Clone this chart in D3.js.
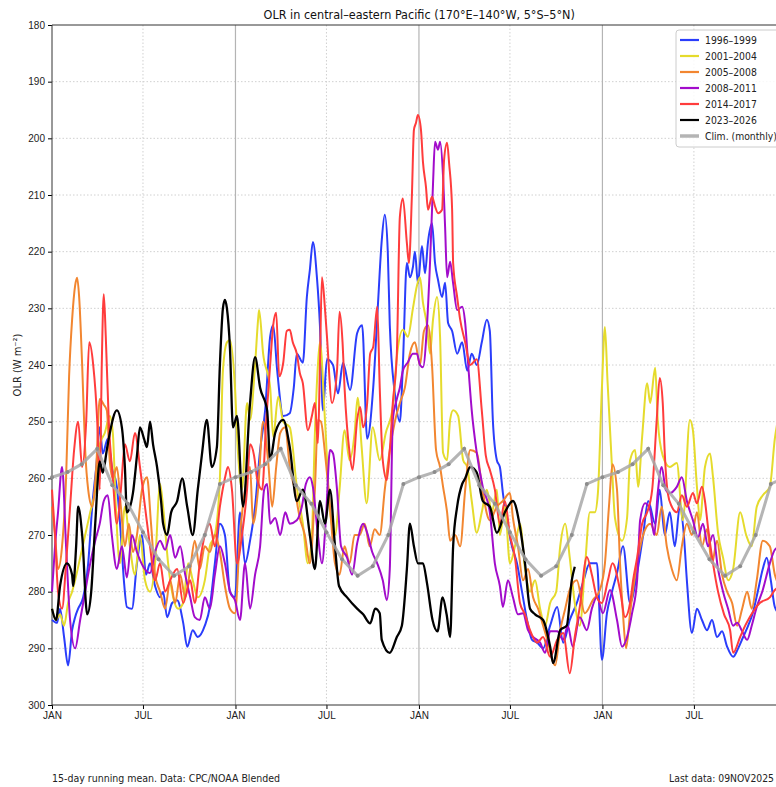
<!DOCTYPE html>
<html>
<head>
<meta charset="utf-8">
<script src="https://cdn.jsdelivr.net/npm/d3@7/dist/d3.min.js"></script>
<style>
  body { margin: 0; background: #fff; }
  svg { display: block; font-family: "DejaVu Sans Condensed", "Liberation Sans Narrow", "DejaVu Sans", sans-serif; }
  .tick text { font-size: 10px; fill: #222; }
  .grid line { stroke: #d0d0d0; stroke-dasharray: 1.5, 2; }
</style>
</head>
<body>
<div id="container"></div>
<script>
// days since 1 Jan of the first year of each 4-year window, OLR in W m-2
const olr1996 = [[0,285],[10,285.5],[16,283],[24,288],[32,293],[40,286.8],[46,284.5],[52,283],[62,281],[72,275],[80,265],[88,258],[95,251],[101,255.6],[111,253],[119,258],[129,261.5],[137,270],[143,278],[149,282.7],[159,283],[169,275],[179,270],[187,277],[195,275],[205,279],[215,281],[221,280],[229,284.5],[239,282],[249,281.5],[261,285.5],[269,289.7],[280,286.8],[290,288],[304,286],[314,282.7],[324,275],[334,268],[344,270],[354,280],[364,281],[374,266],[384,275],[394,271],[404,265],[414,255],[424,248],[434,235],[440,233],[448,241],[460,249],[473,248.5],[481,244],[487,238],[499,239.6],[507,228],[513,223.2],[519,218.3],[527,224.5],[533,233],[539,248],[547,239],[559,240],[569,245],[579,239.6],[593,244.4],[607,234.4],[617,233],[627,253],[639,244],[648,230],[656,218],[662,213.5],[668,220],[672,233],[682,245],[692,250],[698,240],[706,222],[712,224.5],[718,222.7],[722,220],[728,225.6],[736,219],[742,223.8],[748,218.3],[756,215],[762,222],[768,225],[776,228],[782,225.5],[788,232.6],[796,234],[806,238],[816,236],[826,241],[835,238],[845,240],[855,236],[865,232],[871,234],[877,249.7],[885,256.8],[891,258],[897,262.6],[905,267.4],[915,272],[925,275],[935,280],[945,285],[955,288.5],[965,289],[977,290],[991,286],[1005,282.7],[1017,289],[1030,285],[1044,282],[1056,278.5],[1070,275],[1084,275],[1094,292],[1104,283.8],[1114,280],[1124,276.7],[1136,272],[1150,282],[1164,276.7],[1176,270],[1186,264],[1200,268],[1209,262],[1219,270],[1229,266],[1239,272],[1249,265],[1257,270],[1263,278],[1273,287.3],[1283,283],[1293,285],[1303,286.8],[1313,285],[1323,288],[1333,287],[1343,289.7],[1355,291.5],[1365,290],[1375,288],[1385,286],[1394,283.8],[1404,280],[1414,276],[1422,274],[1430,278],[1438,282.7],[1448,284]];

const olr2001 = [[0,283],[8,285],[16,284],[24,286],[32,282],[40,280],[46,278],[56,274],[66,270],[76,266],[86,262],[95,254],[105,252],[115,249],[121,252],[127,265],[135,275],[145,265],[155,272],[165,277],[175,270],[185,278],[195,280],[205,275],[215,261],[221,265],[231,275],[241,281],[251,283],[261,282],[271,275],[280,278],[290,281],[304,278],[314,272],[324,270],[334,260],[340,241],[348,236],[354,235.6],[364,244],[370,255.5],[378,262],[388,246.7],[394,249.7],[404,240],[410,232],[412,230.3],[420,238],[434,244],[440,252.7],[450,245.6],[460,250],[473,251],[487,261.5],[499,268],[509,275],[517,270],[523,252],[529,240],[533,236],[543,249.7],[553,265.6],[563,270],[572,262],[582,251.5],[592,256.8],[602,252],[608,245.8],[616,254.5],[626,264.4],[638,251],[652,256.8],[664,252],[678,247.4],[686,238.6],[698,233.8],[708,235],[718,230],[726,226],[732,224.5],[738,229],[746,233],[752,238],[758,232],[766,228],[772,235],[778,255.5],[786,256.8],[792,249.7],[798,248],[808,249],[818,256.8],[826,258],[835,264],[845,269.6],[855,266],[865,262],[875,266],[885,262],[891,270],[901,265],[911,275],[921,272],[931,268],[941,276],[951,280],[961,278],[971,283],[981,286],[991,282],[1003,280],[1011,272],[1021,268],[1030,274],[1040,282],[1050,286],[1060,276],[1070,266],[1080,266],[1086,262.6],[1094,244],[1100,233.3],[1105,242.6],[1114,258],[1120,267],[1134,271],[1144,267],[1150,256.8],[1160,255],[1166,261.5],[1174,252.7],[1184,243.2],[1190,246.7],[1200,240.5],[1205,249.7],[1215,256],[1229,258],[1243,257.3],[1255,267.4],[1269,249.7],[1275,251.5],[1283,261.5],[1289,267.4],[1299,258],[1309,255.6],[1315,259.8],[1325,269.6],[1335,274],[1345,278],[1355,276],[1369,266],[1381,270],[1392,272],[1402,265],[1414,263],[1428,261.5],[1438,253],[1448,248]];

const olr2005 = [[0,265],[6,270],[12,276],[20,272],[28,260],[34,242],[40,232],[46,226],[50,224.6],[54,228],[60,240],[66,255],[72,262],[80,265],[88,258],[95,246],[103,247],[109,248],[115,257],[121,260],[129,258],[137,265],[145,272],[153,268],[161,273],[169,270],[179,262],[189,259.8],[197,268],[205,277],[215,280],[225,283],[235,278],[245,282],[255,277],[265,281],[275,276],[284,271],[294,276],[304,272],[314,273],[324,270],[334,273],[344,279],[354,283],[364,283.8],[374,270],[384,262],[394,258],[400,268],[410,262],[420,250],[430,257],[438,265],[446,258],[454,252],[464,251],[473,258],[483,262],[493,267],[503,270],[513,275],[523,262],[529,249.7],[535,250],[543,255.5],[553,265],[563,275],[572,277],[582,272],[592,275],[602,270],[612,270],[622,268],[632,272],[642,269],[652,270],[662,262],[672,255],[682,250],[692,246.7],[702,244],[712,238],[722,236],[732,240],[740,234],[748,233],[756,240],[764,255],[772,258],[778,261.5],[786,266],[792,271],[802,270],[812,272],[822,262],[832,255],[845,255.5],[857,262.6],[871,267.4],[885,265],[897,264],[911,262.6],[917,267],[927,272],[937,278],[947,276],[957,281],[967,283],[977,286],[987,289],[995,292],[1001,293],[1011,286.8],[1021,283],[1030,279.7],[1044,278],[1060,283.8],[1076,281.5],[1090,279.7],[1100,275],[1108,265],[1115,257.5],[1124,262],[1130,275],[1136,284],[1142,290],[1150,283.8],[1164,275],[1176,270],[1190,268],[1203,270],[1213,265],[1223,272],[1233,276],[1243,278],[1253,272],[1263,268],[1273,270],[1283,266],[1293,272],[1303,269],[1313,275],[1323,271],[1333,277],[1343,280],[1353,282],[1363,286],[1373,283],[1383,280],[1392,283],[1402,278],[1414,271],[1428,272],[1438,277],[1448,279]];

const olr2008 = [[0,280],[6,272],[12,266],[20,258],[28,272],[36,285],[46,290],[56,285],[66,280],[76,275],[86,271],[95,268],[103,264],[111,263],[119,270],[129,276],[139,272],[149,277.5],[159,270],[169,273],[181,275.5],[195,276.7],[205,273],[215,271],[225,272.6],[235,270],[245,274],[255,272],[265,277],[275,281],[284,284.5],[294,285],[304,281],[314,283],[324,277],[334,272],[344,275],[354,280],[364,281.5],[374,285],[384,275],[394,283],[404,277],[414,272],[422,262],[428,261],[434,268],[444,267],[454,270],[464,266],[473,268],[487,267.4],[497,265],[505,261],[513,259.8],[519,261.5],[529,270],[537,275],[545,267],[553,255],[559,255.6],[567,262],[575,272],[587,274],[597,277],[607,271.5],[619,268],[627,269.6],[637,273],[647,275],[658,278],[666,281.5],[672,276],[678,249.7],[686,246],[692,244],[698,241],[708,239.5],[718,238],[726,238],[732,240],[738,240.4],[746,233],[752,222],[758,208],[762,200.6],[768,202],[772,200.6],[778,206.8],[782,215.6],[786,224.5],[792,221.8],[798,225.6],[806,230.3],[816,229.7],[822,232.6],[828,240],[835,248],[845,255.5],[857,261.5],[871,266],[881,275],[891,279],[897,282.7],[907,278],[917,281],[927,284],[937,283.8],[947,286.8],[957,288],[971,289],[981,290.8],[991,287],[1005,287],[1017,288.5],[1026,286],[1036,289.7],[1050,284.5],[1064,286.8],[1074,283],[1084,281],[1096,283.8],[1110,279.7],[1124,285],[1134,289.7],[1144,288],[1154,283.8],[1164,278],[1170,267.4],[1180,264.4],[1190,265.6],[1198,270],[1205,262.6],[1213,258],[1221,262],[1229,262.6],[1243,261.5],[1253,259.8],[1263,264],[1275,267.4],[1285,270.4],[1295,268],[1305,272],[1315,270],[1325,276],[1335,280],[1345,283],[1355,286],[1363,285.5],[1373,287],[1383,288.5],[1392,286],[1402,282.7],[1414,279.7],[1428,275],[1438,272.6],[1448,272]];

const olr2014 = [[0,262],[6,270],[12,280],[20,283],[28,275],[36,265],[44,255],[52,250],[60,258],[68,250],[74,236],[82,240],[90,250],[95,262],[99,240],[103,227.5],[107,235],[113,250],[121,260],[129,268],[137,262],[145,254],[155,257],[165,252],[175,258],[185,265],[195,272],[205,278],[215,275],[225,280],[235,278],[249,276],[261,282],[275,278],[284,282],[294,275],[304,270],[314,268],[324,272],[334,265],[344,260],[350,258],[358,262],[368,275],[378,270],[388,262],[394,254],[402,256],[408,260],[418,262],[426,250],[434,240],[440,233],[446,230.8],[452,242],[460,239.6],[467,234],[473,233.8],[479,236],[487,238],[493,241.4],[499,243.2],[509,251.5],[517,249],[523,246.7],[529,253.8],[533,240],[537,224.5],[543,230],[547,235],[557,246.7],[567,241],[572,230.6],[578,236],[582,244],[592,255.5],[598,258.5],[607,249.7],[613,247.4],[619,251],[627,246.7],[633,238],[639,236.8],[647,229.7],[652,244],[658,256.8],[666,260.3],[672,255],[678,246.7],[686,238],[692,213.9],[698,210.6],[706,218.5],[710,222],[716,210],[720,198.5],[724,197.3],[728,195.9],[734,198.5],[738,204.2],[744,208.6],[748,212.6],[756,210.3],[762,212],[768,213.2],[776,212.6],[780,203.8],[786,200.8],[790,204.4],[796,212.6],[798,222],[806,228],[812,232],[822,236],[832,240],[845,239],[855,248],[863,256],[871,258.5],[881,262],[891,268],[901,264],[911,270],[921,274],[931,282],[941,284],[951,286.8],[965,289],[977,288],[991,291.5],[1005,288.5],[1017,287.3],[1030,294.4],[1040,288],[1050,282.7],[1064,273.9],[1074,277],[1084,281],[1094,282],[1106,278],[1115,275],[1130,279.7],[1140,284.5],[1150,282],[1156,278],[1164,274],[1174,268],[1184,266],[1194,262],[1203,249.7],[1209,242.3],[1215,246.7],[1219,255.5],[1225,262.6],[1233,265],[1243,266],[1253,263],[1263,265],[1275,262.6],[1283,264.4],[1293,261.5],[1299,264],[1305,268.6],[1315,275],[1325,280],[1337,284],[1349,286.8],[1355,290.8],[1369,288],[1379,286],[1388,284.5],[1408,282],[1428,281],[1438,279.7],[1448,279]];

const olr2023 = [[0,283],[8,285],[16,279],[30,275],[40,277],[42,279],[48,272],[52,265],[60,270],[70,284],[78,280],[86,268],[95,257],[101,259],[109,255],[115,252],[129,248],[139,251],[145,258],[149,266],[161,262.6],[169,256],[175,251],[183,253],[189,254.5],[195,250],[201,254],[209,258],[217,264],[221,268],[229,270],[237,266],[249,264],[259,260],[269,265],[280,270],[290,262],[298,256],[308,249.7],[318,258],[328,254.5],[334,240],[340,230],[344,228.5],[348,230],[354,237],[360,251],[368,249],[380,265],[394,246.7],[404,238.6],[414,244],[428,248],[434,256.8],[444,252],[460,249.7],[473,254.5],[487,264],[499,262],[513,270],[523,276],[533,264],[543,268],[553,262],[563,272],[571,279],[587,281],[607,283],[619,284],[633,285.6],[643,283],[652,283.8],[656,288.5],[672,290.8],[686,288],[696,286],[706,276],[712,268],[720,272],[728,275],[738,275],[746,278.5],[757,285],[767,287],[777,281],[785,284],[792,288],[798,272],[806,265],[816,261],[822,260],[832,258],[845,259],[857,264],[871,265],[885,269.6],[901,266],[917,264],[931,268.6],[941,275],[951,283],[961,284],[977,285],[991,289.7],[997,292.6],[1011,286.8],[1024,286],[1034,278],[1040,275.6]];

// monthly climatology, repeated every year
const climMonths = ["JAN","FEB","MAR","APR","MAY","JUN","JUL","AUG","SEP","OCT","NOV","DEC"];
const climValues = [259.8, 258.9, 257.5, 254.8, 261.2, 264.5, 269.5, 274.3, 277.2, 275.5, 270, 261];

const seriesNames = ["1996–1999", "2001–2004", "2005–2008", "2008–2011", "2014–2017", "2023–2026"];
const seriesData = [olr1996, olr2001, olr2005, olr2008, olr2014, olr2023];
const seriesColors = ["#2a3dfb", "#e5db2c", "#f28630", "#a20ccb", "#ff3c3c", "#000000"];

const yTicks = d3.range(180, 301, 10);
const tickMonths = ["JAN", "JUL"];

const width = 776, height = 787;
const marginLeft = 52, marginTop = 25, plotW = 734.4, plotH = 680;

const dayOf = (yearOffset, month) =>
  d3.timeDay.count(new Date(2001, 0, 1), new Date(2001 + yearOffset, month, 1));

const xScale = d3.scaleLinear().domain([0, dayOf(4, 0)]).range([marginLeft, marginLeft + plotW]);
const yScale = d3.scaleLinear().domain([180, 300]).range([marginTop, marginTop + plotH]);

const svg = d3.select('#container').append('svg')
  .attr('width', width)
  .attr('height', height);

const createAxes = () => {
  const janDays = d3.range(0, 5).map(yr => dayOf(yr, 0));
  const julDays = d3.range(0, 4).map(yr => dayOf(yr, 6));

  // dotted grid
  const grid = svg.append('g').attr('class', 'grid');
  grid.selectAll('.hg').data(yTicks.slice(1, -1)).enter().append('line')
    .attr('x1', marginLeft).attr('x2', marginLeft + plotW)
    .attr('y1', d => yScale(d)).attr('y2', d => yScale(d));
  grid.selectAll('.vg').data(julDays).enter().append('line')
    .attr('x1', d => xScale(d)).attr('x2', d => xScale(d))
    .attr('y1', marginTop).attr('y2', marginTop + plotH);

  // year boundaries
  svg.append('g').selectAll('line').data(janDays.slice(1, 4)).enter().append('line')
    .attr('x1', d => xScale(d)).attr('x2', d => xScale(d))
    .attr('y1', marginTop).attr('y2', marginTop + plotH)
    .attr('stroke', '#b4b4b4').attr('stroke-width', 1.2);

  const tickDays = [];
  d3.range(0, 4).forEach(yr => tickDays.push(dayOf(yr, 0), dayOf(yr, 6)));

  svg.append('g')
    .attr('transform', `translate(0, ${marginTop + plotH})`)
    .call(d3.axisBottom(xScale).tickValues(tickDays)
      .tickFormat((d, i) => tickMonths[i % 2]).tickSizeOuter(0).tickSize(4).tickPadding(3))
    .call(g => g.select('.domain').remove());

  svg.append('g')
    .attr('transform', `translate(${marginLeft}, 0)`)
    .call(d3.axisLeft(yScale).tickValues(yTicks).tickSizeOuter(0).tickSize(4).tickPadding(3))
    .call(g => g.select('.domain').remove());

  // frame
  svg.append('path')
    .attr('d', `M${marginLeft + plotW},${marginTop}H${marginLeft}V${marginTop + plotH}H${marginLeft + plotW}`)
    .attr('fill', 'none').attr('stroke', '#333').attr('stroke-width', 1);
}

const createLines = () => {
  const line = d3.line().x(d => xScale(d[0])).y(d => yScale(d[1])).curve(d3.curveMonotoneX);

  svg.append('g').selectAll('path').data(seriesData).enter().append('path')
    .attr('d', line)
    .attr('fill', 'none')
    .attr('stroke', (d, i) => seriesColors[i])
    .attr('stroke-width', (d, i) => i === 5 ? 2.3 : 2)
    .attr('stroke-linejoin', 'round');

  const clim = [];
  d3.range(0, 4).forEach(yr => climMonths.forEach((m, i) => clim.push([dayOf(yr, i), climValues[i]])));
  clim.push([dayOf(4, 0), climValues[0]]);

  const climLine = d3.line().x(d => xScale(d[0])).y(d => yScale(d[1]));
  svg.append('path')
    .attr('d', climLine(clim))
    .attr('fill', 'none')
    .attr('stroke', '#a8a8a8')
    .attr('stroke-opacity', 0.85)
    .attr('stroke-width', 3);

  svg.append('g').selectAll('circle').data(clim).enter().append('circle')
    .attr('cx', d => xScale(d[0]))
    .attr('cy', d => yScale(d[1]))
    .attr('r', 2)
    .attr('fill', '#8c8c8c');
}

const createLegend = () => {
  const lg = svg.append('g').attr('transform', 'translate(676, 30)');
  lg.append('rect')
    .attr('width', 120).attr('height', 117).attr('rx', 3)
    .attr('fill', '#fff').attr('fill-opacity', 0.85)
    .attr('stroke', '#ccc');

  const items = seriesNames.map((n, i) => ({ name: n, color: seriesColors[i], w: 2.2 }))
    .concat([{ name: 'Clim. (monthly)', color: '#b4b4b4', w: 3.5 }]);

  const rows = lg.selectAll('g').data(items).enter().append('g')
    .attr('transform', (d, i) => `translate(0, ${10 + i * 16})`);
  rows.append('line')
    .attr('x1', 4).attr('x2', 23)
    .attr('stroke', d => d.color).attr('stroke-width', d => d.w);
  rows.append('text')
    .attr('x', 29).attr('y', 4)
    .attr('font-size', 10.3)
    .attr('fill', '#222')
    .text(d => d.name);
}

const createLabels = () => {
  svg.append('text')
    .attr('x', marginLeft + plotW / 2)
    .attr('y', 19)
    .attr('text-anchor', 'middle')
    .attr('font-size', 12.5)
    .attr('fill', '#111')
    .text('OLR in central–eastern Pacific (170°E–140°W, 5°S–5°N)');

  svg.append('text')
    .attr('transform', `translate(21, ${marginTop + plotH / 2}) rotate(-90)`)
    .attr('text-anchor', 'middle')
    .attr('font-size', 11)
    .attr('fill', '#222')
    .text('OLR (W m⁻²)');

  svg.append('text')
    .attr('x', marginLeft).attr('y', 782)
    .attr('font-size', 10.5).attr('fill', '#222')
    .text('15-day running mean. Data: CPC/NOAA Blended');

  svg.append('text')
    .attr('x', 774).attr('y', 782)
    .attr('text-anchor', 'end')
    .attr('font-size', 10.3).attr('fill', '#222')
    .text('Last data: 09NOV2025');
}

createAxes();
createLines();
createLegend();
createLabels();
</script>
</body>
</html>
